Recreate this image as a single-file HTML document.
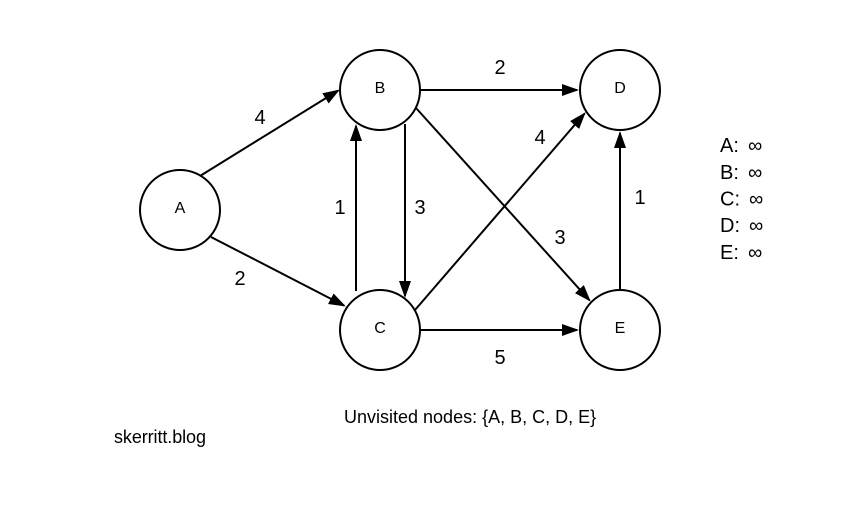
<!DOCTYPE html>
<html>
<head>
<meta charset="utf-8">
<style>
html,body{margin:0;padding:0;background:#fff;}
svg{display:block;}
text{font-family:"Liberation Sans",sans-serif;fill:#000;}
</style>
</head>
<body>
<svg width="860" height="510" viewBox="0 0 860 510" xmlns="http://www.w3.org/2000/svg">
<defs>
<marker id="a" markerUnits="userSpaceOnUse" markerWidth="18" markerHeight="14" refX="15" refY="6" orient="auto">
<path d="M0 0L17 6L0 12Z" fill="#000" stroke="none"/>
</marker>
</defs>
<g stroke="#000" stroke-width="2" fill="none">
<circle cx="180" cy="210" r="40" fill="#fff"/>
<circle cx="380" cy="90" r="40" fill="#fff"/>
<circle cx="380" cy="330" r="40" fill="#fff"/>
<circle cx="620" cy="90" r="40" fill="#fff"/>
<circle cx="620" cy="330" r="40" fill="#fff"/>
<line x1="200" y1="176" x2="338.2" y2="90.5" marker-end="url(#a)"/>
<line x1="211" y1="237" x2="344.1" y2="305.6" marker-end="url(#a)"/>
<line x1="420" y1="90" x2="577" y2="90" marker-end="url(#a)"/>
<line x1="356" y1="291" x2="356" y2="126" marker-end="url(#a)"/>
<line x1="405" y1="124" x2="405" y2="296" marker-end="url(#a)"/>
<line x1="416" y1="108" x2="589.4" y2="300.2" marker-end="url(#a)"/>
<line x1="415" y1="310" x2="584.4" y2="113.7" marker-end="url(#a)"/>
<line x1="420" y1="330" x2="577" y2="330" marker-end="url(#a)"/>
<line x1="620" y1="290" x2="620" y2="133" marker-end="url(#a)"/>
</g>
<g font-size="16" text-anchor="middle">
<text x="180" y="213">A</text>
<text x="380" y="93">B</text>
<text x="380" y="333">C</text>
<text x="620" y="93">D</text>
<text x="620" y="333">E</text>
</g>
<g font-size="20" text-anchor="middle">
<text x="260" y="124">4</text>
<text x="240" y="285">2</text>
<text x="500" y="74">2</text>
<text x="340" y="214">1</text>
<text x="420" y="214">3</text>
<text x="540" y="144">4</text>
<text x="560" y="244">3</text>
<text x="640" y="204">1</text>
<text x="500" y="364">5</text>
</g>
<g font-size="20">
<text x="720" y="152">A:<tspan dx="3.5"> ∞</tspan></text>
<text x="720" y="179">B:<tspan dx="3.5"> ∞</tspan></text>
<text x="720" y="205.5">C:<tspan dx="3.5"> ∞</tspan></text>
<text x="720" y="232">D:<tspan dx="3.5"> ∞</tspan></text>
<text x="720" y="259">E:<tspan dx="3.5"> ∞</tspan></text>
</g>
<text x="344" y="423" font-size="18">Unvisited nodes: {A, B, C, D, E}</text>
<text x="114" y="443" font-size="18" textLength="92">skerritt.blog</text>
</svg>
</body>
</html>
